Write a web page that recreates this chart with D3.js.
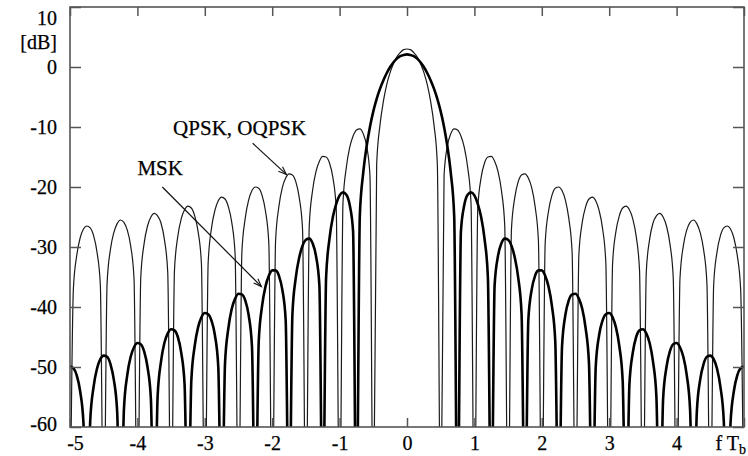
<!DOCTYPE html>
<html><head><meta charset="utf-8">
<script src="https://cdn.jsdelivr.net/npm/d3@7"></script>
<style>body{margin:0;background:#fff}svg{display:block}</style>
</head><body>
<svg id="c" width="748" height="456"></svg>
<script>
// f*Tb grid
const fTb = [
-5,-4.95,-4.9,-4.85,-4.8,-4.75,-4.7,-4.65,-4.6,-4.55,-4.5,-4.45,-4.4,-4.35,-4.3,-4.25,-4.2,-4.15,-4.1,-4.05,
-4,-3.95,-3.9,-3.85,-3.8,-3.75,-3.7,-3.65,-3.6,-3.55,-3.5,-3.45,-3.4,-3.35,-3.3,-3.25,-3.2,-3.15,-3.1,-3.05,
-3,-2.95,-2.9,-2.85,-2.8,-2.75,-2.7,-2.65,-2.6,-2.55,-2.5,-2.45,-2.4,-2.35,-2.3,-2.25,-2.2,-2.15,-2.1,-2.05,
-2,-1.95,-1.9,-1.85,-1.8,-1.75,-1.7,-1.65,-1.6,-1.55,-1.5,-1.45,-1.4,-1.35,-1.3,-1.25,-1.2,-1.15,-1.1,-1.05,
-1,-0.95,-0.9,-0.85,-0.8,-0.75,-0.7,-0.65,-0.6,-0.55,-0.5,-0.45,-0.4,-0.35,-0.3,-0.25,-0.2,-0.15,-0.1,-0.05,
0,
0.05,0.1,0.15,0.2,0.25,0.3,0.35,0.4,0.45,0.5,0.55,0.6,0.65,0.7,0.75,0.8,0.85,0.9,0.95,1,
1.05,1.1,1.15,1.2,1.25,1.3,1.35,1.4,1.45,1.5,1.55,1.6,1.65,1.7,1.75,1.8,1.85,1.9,1.95,2,
2.05,2.1,2.15,2.2,2.25,2.3,2.35,2.4,2.45,2.5,2.55,2.6,2.65,2.7,2.75,2.8,2.85,2.9,2.95,3,
3.05,3.1,3.15,3.2,3.25,3.3,3.35,3.4,3.45,3.5,3.55,3.6,3.65,3.7,3.75,3.8,3.85,3.9,3.95,4,
4.05,4.1,4.15,4.2,4.25,4.3,4.35,4.4,4.45,4.5,4.55,4.6,4.65,4.7,4.75,4.8,4.85,4.9,4.95,5
];
// QPSK / OQPSK spectrum [dB] (thin line); -80 = null, below the plot
const qpskDb = [
-80,-37.0,-31.4,-28.5,-27.0,-26.5,-26.8,-28.1,-30.8,-36.3,
-80,-36.1,-30.4,-27.6,-26.1,-25.5,-25.9,-27.2,-29.8,-35.3,
-80,-35.1,-29.4,-26.5,-25.0,-24.4,-24.8,-26.0,-28.7,-34.2,
-80,-33.9,-28.2,-25.3,-23.8,-23.2,-23.5,-24.8,-27.4,-32.8,
-80,-32.6,-26.8,-23.9,-22.3,-21.7,-22.0,-23.3,-25.9,-31.3,
-80,-30.9,-25.2,-22.2,-20.6,-20.0,-20.2,-21.4,-24.0,-29.4,
-80,-29.0,-23.2,-20.1,-18.5,-17.8,-18.0,-19.1,-21.7,-27.0,
-80,-26.4,-20.5,-17.4,-15.7,-14.9,-15.0,-16.0,-18.4,-23.6,
-80,-22.7,-16.7,-13.4,-11.5,-10.5,-10.3,-11.1,-13.1,-18.0,
-80,-16.2,-9.6,-5.7,-2.9,-0.9,0.6,1.7,2.4,2.9,
3.0,
2.9,2.4,1.7,0.6,-0.9,-2.9,-5.7,-9.6,-16.2,-80,
-18.0,-13.1,-11.1,-10.3,-10.5,-11.5,-13.4,-16.7,-22.7,-80,
-23.6,-18.4,-16.0,-15.0,-14.9,-15.7,-17.4,-20.5,-26.4,-80,
-27.0,-21.7,-19.1,-18.0,-17.8,-18.5,-20.1,-23.2,-29.0,-80,
-29.4,-24.0,-21.4,-20.2,-20.0,-20.6,-22.2,-25.2,-30.9,-80,
-31.3,-25.9,-23.3,-22.0,-21.7,-22.3,-23.9,-26.8,-32.6,-80,
-32.8,-27.4,-24.8,-23.5,-23.2,-23.8,-25.3,-28.2,-33.9,-80,
-34.2,-28.7,-26.0,-24.8,-24.4,-25.0,-26.5,-29.4,-35.1,-80,
-35.3,-29.8,-27.2,-25.9,-25.5,-26.1,-27.6,-30.4,-36.1,-80,
-36.3,-30.8,-28.1,-26.8,-26.5,-27.0,-28.5,-31.4,-37.0,-80
];
// MSK spectrum [dB] (thick line)
const mskDb = [
-49.9,-50.2,-51.4,-54.0,-59.4,-80,-59.0,-53.3,-50.3,-48.7,
-48.1,-48.3,-49.5,-52.1,-57.5,-80,-57.1,-51.3,-48.3,-46.7,
-46.0,-46.2,-47.4,-50.0,-55.3,-80,-54.9,-49.1,-46.0,-44.4,
-43.7,-43.9,-45.0,-47.6,-52.9,-80,-52.3,-46.5,-43.4,-41.7,
-41.0,-41.2,-42.3,-44.7,-50.0,-80,-49.4,-43.5,-40.3,-38.6,
-37.8,-37.9,-38.9,-41.3,-46.6,-80,-45.8,-39.8,-36.6,-34.8,
-33.9,-33.9,-34.8,-37.1,-42.2,-80,-41.2,-35.1,-31.8,-29.8,
-28.8,-28.6,-29.4,-31.5,-36.4,-80,-35.0,-28.6,-25.0,-22.8,
-21.4,-20.9,-21.3,-23.0,-27.4,-80,-24.8,-17.7,-13.3,-10.0,
-7.4,-5.3,-3.6,-2.2,-1.0,0.0,0.8,1.4,1.8,2.0,
2.1,
2.0,1.8,1.4,0.8,0.0,-1.0,-2.2,-3.6,-5.3,-7.4,
-10.0,-13.3,-17.7,-24.8,-80,-27.4,-23.0,-21.3,-20.9,-21.4,
-22.8,-25.0,-28.6,-35.0,-80,-36.4,-31.5,-29.4,-28.6,-28.8,
-29.8,-31.8,-35.1,-41.2,-80,-42.2,-37.1,-34.8,-33.9,-33.9,
-34.8,-36.6,-39.8,-45.8,-80,-46.6,-41.3,-38.9,-37.9,-37.8,
-38.6,-40.3,-43.5,-49.4,-80,-50.0,-44.7,-42.3,-41.2,-41.0,
-41.7,-43.4,-46.5,-52.3,-80,-52.9,-47.6,-45.0,-43.9,-43.7,
-44.4,-46.0,-49.1,-54.9,-80,-55.3,-50.0,-47.4,-46.2,-46.0,
-46.7,-48.3,-51.3,-57.1,-80,-57.5,-52.1,-49.5,-48.3,-48.1,
-48.7,-50.3,-53.3,-59.0,-80,-59.4,-54.0,-51.4,-50.2,-49.9
];
const xTicks = [-5,-4,-3,-2,-1,0,1,2,3,4,5];
const xTickLabels = ["-5","-4","-3","-2","-1","0","1","2","3","4",""];
const yTicks = [10,0,-10,-20,-30,-40,-50,-60];
const yTickLabels = ["10","0","-10","-20","-30","-40","-50","-60"];
const yUnit = "[dB]";
const xUnit = ["f T", "b"];
// annotation: label anchor and arrow from/to, in data units (fTb, dB)
const annLabels = ["QPSK, OQPSK", "MSK"];
const annLabelX = [-3.47, -4.0];
const annLabelY = [-11.4, -18.0];
const annFromX = [-2.29, -3.63];
const annFromY = [-12.7, -20.0];
const annToX = [-1.79, -2.16];
const annToY = [-17.9, -36.6];

const svg = d3.select("#c");
const W = 748, H = 456;
const L = 70, R = 744, T = 7, B = 427;
const x = d3.scaleLinear().domain([-5, 5]).range([L, R]);
const y = d3.scaleLinear().domain([-60, 10]).range([B, T]);
const font = "Liberation Serif";
const axisColor = "#555";
const txt = (sel, size) => sel.style("font-family", font).style("font-size", size + "px")
  .attr("fill", "#000").attr("stroke", "#000").attr("stroke-width", 0.25);

svg.append("rect").attr("width", W).attr("height", H).attr("fill", "#fff");

const defs = svg.append("defs");
defs.append("clipPath").attr("id", "plot").append("rect")
  .attr("x", L).attr("y", T).attr("width", R - L).attr("height", B - T);
defs.append("marker").attr("id", "arr")
  .attr("viewBox", "-10 -6 12 12").attr("refX", 0).attr("refY", 0)
  .attr("markerWidth", 12).attr("markerHeight", 12)
  .attr("markerUnits", "userSpaceOnUse").attr("orient", "auto")
  .append("path").attr("d", "M-8,-3 L0,0 L-8,3")
  .attr("fill", "none").attr("stroke", "#111").attr("stroke-width", 1.1);

// curves
const pts = (arr) => fTb.map((f, i) => [f, arr[i]]);
const line = d3.line().x(d => x(d[0])).y(d => y(d[1])).curve(d3.curveMonotoneX);
const gc = svg.append("g").attr("clip-path", "url(#plot)");
gc.append("path").attr("d", line(pts(qpskDb)))
  .attr("fill", "none").attr("stroke", "#1a1a1a").attr("stroke-width", 1.2);
gc.append("path").attr("d", line(pts(mskDb)))
  .attr("fill", "none").attr("stroke", "#000").attr("stroke-width", 2.6);

// axes
function styleAxis(g) {
  g.attr("font-family", null).attr("font-size", null);
  g.select(".domain").remove();
  g.selectAll(".tick line").attr("stroke", axisColor).attr("stroke-width", 1.5);
  txt(g.selectAll(".tick text"), 20);
}
const gb = svg.append("g").attr("transform", `translate(0,${B})`)
  .call(d3.axisBottom(x).tickValues(xTicks).tickSize(-9).tickPadding(9)
    .tickFormat((d, i) => xTickLabels[i]));
styleAxis(gb);
gb.selectAll(".tick text").filter(d => d === -5).attr("dx", 5);

const gt = svg.append("g").attr("transform", `translate(0,${T})`)
  .call(d3.axisTop(x).tickValues(xTicks).tickSize(-9).tickFormat(""));
styleAxis(gt);

const gl = svg.append("g").attr("transform", `translate(${L},0)`)
  .call(d3.axisLeft(y).tickValues(yTicks).tickSize(-11).tickPadding(13)
    .tickFormat((d, i) => yTickLabels[i]));
styleAxis(gl);
gl.selectAll(".tick text").filter(d => d === 10).attr("dy", "0.85em");
gl.selectAll(".tick text").filter(d => d === -60).attr("dy", "0.15em");

const gr = svg.append("g").attr("transform", `translate(${R},0)`)
  .call(d3.axisRight(y).tickValues(yTicks).tickSize(-11).tickFormat(""));
styleAxis(gr);

// frame
svg.append("rect").attr("x", L).attr("y", T).attr("width", R - L).attr("height", B - T)
  .attr("fill", "none").attr("stroke", axisColor).attr("stroke-width", 1.6);

// unit labels
txt(svg.append("text").attr("x", L - 13).attr("y", y(10) + 42).attr("text-anchor", "end"), 20)
  .text(yUnit);
const xu = txt(svg.append("text").attr("x", R + 2).attr("y", 450).attr("text-anchor", "end"), 20);
xu.append("tspan").text(xUnit[0]);
xu.append("tspan").style("font-size", "14px").attr("dy", 4).text(xUnit[1]);

// annotations
annLabels.forEach((t, i) => {
  txt(svg.append("text").attr("x", x(annLabelX[i])).attr("y", y(annLabelY[i])), 21).text(t);
  svg.append("line")
    .attr("x1", x(annFromX[i])).attr("y1", y(annFromY[i]))
    .attr("x2", x(annToX[i])).attr("y2", y(annToY[i]))
    .attr("stroke", "#111").attr("stroke-width", 1.2).attr("marker-end", "url(#arr)");
});
</script>
</body></html>
